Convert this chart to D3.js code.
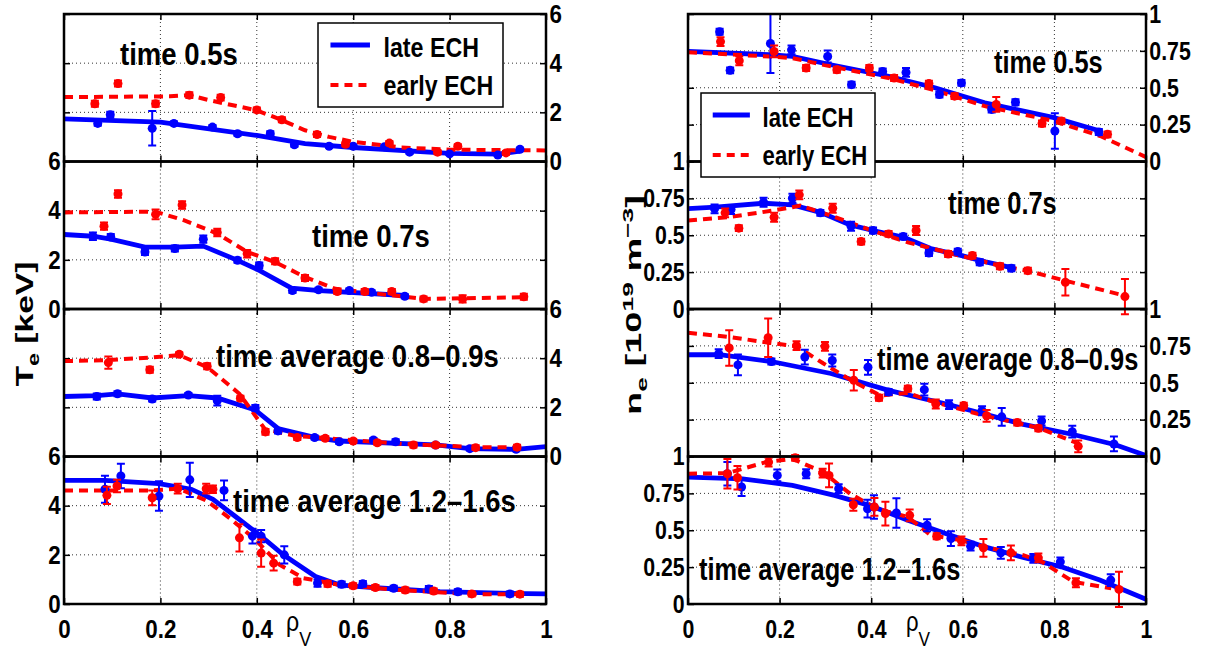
<!DOCTYPE html>
<html>
<head>
<meta charset="utf-8">
<script src="https://cdn.jsdelivr.net/npm/d3@7"></script>
<style>
body { margin: 0; background: #fff; }
</style>
</head>
<body>
<div id="chart-container"></div>
<script>
// ticks
const rhoTicks = [0, 0.2, 0.4, 0.6, 0.8, 1];
const teTicks = [0, 2, 4, 6];
const neTicks = [0, 0.25, 0.5, 0.75, 1];
const seriesNames = ["late ECH", "early ECH"];
const panelTitles = ["time 0.5s", "time 0.7s", "time average 0.8\u20130.9s", "time average 1.2\u20131.6s"];

// Te [keV] : fits [rho, value], points [rho, value, error]
const teLateFit05 = [[0,1.73],[0.2,1.6],[0.4,1.06],[0.5,0.73],[0.6,0.57],[0.8,0.33],[0.9,0.3],[0.946,0.42]];
const teLatePts05 = [[0.07,1.55,0.1],[0.096,1.9,0.12],[0.183,1.35,0.7],[0.228,1.55,0.08],[0.308,1.4,0.08],[0.36,1.13,0.08],[0.428,1.13,0.1],[0.478,0.68,0.08],[0.55,0.62,0.06],[0.6,0.62,0.06],[0.665,0.6,0.06],[0.717,0.38,0.06],[0.8,0.31,0.05],[0.9,0.26,0.05],[0.946,0.5,0.06]];
const teEarlyFit05 = [[0,2.62],[0.22,2.65],[0.26,2.7],[0.3,2.5],[0.4,2.08],[0.45,1.7],[0.5,1.27],[0.55,1.0],[0.6,0.8],[0.7,0.57],[0.8,0.48],[1,0.45]];
const teEarlyPts05 = [[0.064,2.35,0.12],[0.112,3.17,0.12],[0.19,2.35,0.12],[0.26,2.7,0.12],[0.325,2.6,0.12],[0.4,2.1,0.1],[0.452,1.7,0.1],[0.525,1.1,0.1],[0.584,0.7,0.08],[0.675,0.75,0.08],[0.775,0.38,0.08],[0.817,0.62,0.08],[0.917,0.35,0.08]];

const teLateFit07 = [[0,3.03],[0.06,2.96],[0.097,2.84],[0.168,2.52],[0.23,2.52],[0.289,2.56],[0.36,1.98],[0.405,1.57],[0.472,0.85],[0.53,0.75],[0.707,0.55]];
const teLatePts07 = [[0.06,2.96,0.15],[0.097,2.93,0.12],[0.168,2.32,0.12],[0.23,2.46,0.12],[0.289,2.84,0.15],[0.36,1.98,0.1],[0.405,1.77,0.12],[0.474,0.75,0.1],[0.528,0.78,0.08],[0.592,0.75,0.08],[0.638,0.68,0.08],[0.707,0.52,0.08]];
const teEarlyFit07 = [[0,3.93],[0.19,3.96],[0.247,3.62],[0.318,3.07],[0.38,2.32],[0.438,1.91],[0.5,1.3],[0.563,0.82],[0.746,0.41],[0.83,0.44],[0.958,0.48]];
const teEarlyPts07 = [[0.083,3.37,0.15],[0.112,4.68,0.15],[0.19,3.85,0.2],[0.245,4.23,0.15],[0.318,3.11,0.15],[0.38,2.25,0.15],[0.438,1.94,0.12],[0.5,1.26,0.12],[0.567,0.71,0.1],[0.624,0.71,0.1],[0.68,0.71,0.1],[0.746,0.41,0.1],[0.827,0.41,0.15],[0.954,0.5,0.12]];

const teLateFit089 = [[0,2.44],[0.068,2.48],[0.111,2.55],[0.183,2.38],[0.258,2.48],[0.318,2.38],[0.397,1.89],[0.444,1.14],[0.522,0.77],[0.571,0.63],[0.771,0.47],[0.842,0.32],[0.938,0.29],[1,0.4]];
const teLatePts089 = [[0.068,2.44,0.12],[0.111,2.55,0.1],[0.183,2.34,0.1],[0.258,2.5,0.08],[0.318,2.27,0.2],[0.397,1.97,0.12],[0.444,1.04,0.1],[0.52,0.77,0.08],[0.571,0.6,0.08],[0.642,0.67,0.08],[0.688,0.6,0.1],[0.771,0.47,0.08],[0.842,0.32,0.08],[0.938,0.29,0.08]];
const teEarlyFit089 = [[0,3.88],[0.089,3.92],[0.181,4.03],[0.239,4.12],[0.297,3.64],[0.364,2.55],[0.417,1.11],[0.48,0.84],[0.547,0.74],[0.696,0.52],[0.854,0.38],[0.938,0.38]];
const teEarlyPts089 = [[0.092,3.82,0.25],[0.178,3.53,0.12],[0.239,4.16,0.08],[0.297,3.67,0.12],[0.366,2.37,0.1],[0.418,1.0,0.12],[0.484,0.77,0.1],[0.542,0.74,0.08],[0.6,0.63,0.08],[0.65,0.56,0.08],[0.725,0.47,0.1],[0.771,0.47,0.08],[0.854,0.36,0.1],[0.94,0.38,0.1]];

const teLateFit1216 = [[0,5.03],[0.085,5.03],[0.197,4.9],[0.264,4.67],[0.309,4.26],[0.355,3.57],[0.405,2.82],[0.455,2.0],[0.522,1.12],[0.571,0.78],[0.613,0.71],[0.696,0.6],[0.78,0.5],[0.904,0.44],[1,0.41]];
const teLatePts1216 = [[0.085,4.67,0.55],[0.118,5.21,0.5],[0.197,4.39,0.6],[0.261,5.05,0.7],[0.332,4.62,0.4],[0.391,2.76,0.3],[0.409,2.76,0.25],[0.457,2.0,0.35],[0.526,0.85,0.15],[0.576,0.8,0.12],[0.62,0.82,0.12],[0.684,0.64,0.1],[0.757,0.61,0.12],[0.817,0.5,0.1],[0.925,0.41,0.1]];
const teEarlyFit1216 = [[0,4.62],[0.09,4.62],[0.18,4.62],[0.239,4.69],[0.297,4.19],[0.347,3.44],[0.397,2.62],[0.447,1.6],[0.497,1.05],[0.571,0.78],[0.696,0.57],[0.846,0.4],[0.946,0.4]];
const teEarlyPts1216 = [[0.089,4.42,0.35],[0.11,4.8,0.25],[0.183,4.32,0.3],[0.236,4.69,0.2],[0.295,4.69,0.2],[0.309,4.67,0.15],[0.364,2.69,0.55],[0.409,2.07,0.55],[0.435,1.66,0.3],[0.484,0.91,0.12],[0.547,0.82,0.12],[0.6,0.74,0.1],[0.646,0.67,0.1],[0.708,0.57,0.1],[0.767,0.53,0.1],[0.846,0.41,0.1],[0.946,0.4,0.1]];

// ne [10^19 m^-3]
const neLateFit05 = [[0,0.746],[0.178,0.724],[0.228,0.712],[0.312,0.656],[0.438,0.578],[0.539,0.5],[0.648,0.398],[0.799,0.297],[0.9,0.207]];
const neLatePts05 = [[0.069,0.88,0.02],[0.092,0.618,0.02],[0.18,0.8,0.2],[0.226,0.757,0.03],[0.305,0.712,0.04],[0.357,0.521,0.02],[0.425,0.611,0.02],[0.476,0.604,0.03],[0.549,0.454,0.02],[0.597,0.533,0.02],[0.663,0.353,0.02],[0.715,0.402,0.02],[0.801,0.207,0.12],[0.897,0.2,0.02]];
const neEarlyFit05 = [[0,0.74],[0.178,0.712],[0.228,0.701],[0.312,0.645],[0.438,0.566],[0.539,0.483],[0.648,0.375],[0.799,0.274],[0.9,0.173],[1,0.03]];
const neEarlyPts05 = [[0.071,0.813,0.03],[0.112,0.683,0.03],[0.188,0.746,0.04],[0.258,0.634,0.02],[0.325,0.622,0.02],[0.396,0.634,0.02],[0.45,0.566,0.02],[0.526,0.528,0.02],[0.582,0.443,0.02],[0.673,0.387,0.05],[0.773,0.258,0.02],[0.815,0.274,0.02],[0.916,0.184,0.02]];

const neLateFit07 = [[0,0.68],[0.06,0.69],[0.165,0.717],[0.228,0.706],[0.289,0.655],[0.354,0.57],[0.404,0.532],[0.471,0.486],[0.53,0.41],[0.6,0.36],[0.65,0.32],[0.706,0.28]];
const neLatePts07 = [[0.058,0.679,0.03],[0.094,0.674,0.03],[0.165,0.724,0.03],[0.228,0.751,0.03],[0.289,0.652,0.02],[0.356,0.561,0.03],[0.404,0.532,0.02],[0.47,0.491,0.02],[0.526,0.38,0.02],[0.589,0.389,0.02],[0.637,0.317,0.02],[0.706,0.276,0.02]];
const neEarlyFit07 = [[0,0.6],[0.086,0.622],[0.161,0.656],[0.228,0.69],[0.245,0.701],[0.312,0.633],[0.396,0.538],[0.48,0.452],[0.564,0.385],[0.681,0.294],[0.74,0.26],[0.824,0.192],[0.954,0.09]];
const neEarlyPts07 = [[0.081,0.652,0.03],[0.111,0.548,0.02],[0.188,0.622,0.03],[0.243,0.774,0.03],[0.316,0.683,0.03],[0.378,0.457,0.02],[0.438,0.509,0.02],[0.498,0.532,0.03],[0.568,0.373,0.02],[0.621,0.362,0.02],[0.681,0.29,0.02],[0.742,0.26,0.02],[0.824,0.181,0.09],[0.954,0.084,0.12]];

const neLateFit089 = [[0,0.69],[0.069,0.69],[0.182,0.644],[0.312,0.563],[0.438,0.448],[0.564,0.356],[0.648,0.287],[0.732,0.218],[0.841,0.149],[0.933,0.08],[1,0.007]];
const neLatePts089 = [[0.067,0.697,0.03],[0.109,0.621,0.07],[0.182,0.644,0.02],[0.255,0.674,0.05],[0.315,0.651,0.04],[0.393,0.605,0.05],[0.438,0.437,0.02],[0.516,0.453,0.04],[0.57,0.352,0.03],[0.642,0.31,0.03],[0.685,0.269,0.06],[0.772,0.241,0.03],[0.839,0.168,0.04],[0.93,0.085,0.05]];
const neEarlyFit089 = [[0,0.839],[0.09,0.811],[0.179,0.77],[0.237,0.747],[0.295,0.632],[0.362,0.506],[0.42,0.414],[0.48,0.43],[0.539,0.368],[0.648,0.276],[0.765,0.195],[0.849,0.092]];
const neEarlyPts089 = [[0.09,0.736,0.12],[0.175,0.805,0.13],[0.237,0.752,0.03],[0.299,0.747,0.03],[0.362,0.517,0.07],[0.417,0.398,0.02],[0.48,0.46,0.02],[0.541,0.356,0.03],[0.602,0.345,0.02],[0.652,0.276,0.04],[0.719,0.23,0.02],[0.765,0.191,0.02],[0.852,0.069,0.04]];

const neLateFit1216 = [[0,0.86],[0.119,0.849],[0.228,0.804],[0.32,0.736],[0.396,0.669],[0.48,0.568],[0.564,0.477],[0.648,0.387],[0.732,0.315],[0.815,0.252],[0.899,0.162],[1,0.032]];
const neLatePts1216 = [[0.086,0.883,0.08],[0.117,0.793,0.06],[0.195,0.872,0.04],[0.258,0.883,0.03],[0.329,0.782,0.03],[0.392,0.646,0.06],[0.406,0.658,0.08],[0.455,0.617,0.1],[0.522,0.534,0.04],[0.574,0.444,0.05],[0.617,0.392,0.03],[0.683,0.347,0.04],[0.754,0.309,0.03],[0.813,0.286,0.03],[0.923,0.162,0.04]];
const neEarlyFit1216 = [[0,0.883],[0.086,0.887],[0.17,0.962],[0.228,0.984],[0.295,0.894],[0.354,0.748],[0.413,0.646],[0.48,0.59],[0.53,0.466],[0.597,0.432],[0.648,0.387],[0.732,0.331],[0.773,0.286],[0.841,0.151],[0.924,0.106]];
const neEarlyPts1216 = [[0.086,0.883,0.1],[0.108,0.856,0.08],[0.176,0.962,0.03],[0.234,0.991,0.02],[0.294,0.887,0.03],[0.308,0.872,0.08],[0.361,0.673,0.04],[0.407,0.658,0.06],[0.431,0.613,0.08],[0.484,0.601,0.04],[0.543,0.459,0.02],[0.597,0.428,0.03],[0.645,0.381,0.06],[0.705,0.347,0.05],[0.765,0.313,0.03],[0.847,0.144,0.03],[0.941,0.099,0.12]];

// layout
const width = 1205, height = 653;
const panelTop = 14, panelH = 147.5;
const blue = "#0000ff", red = "#ff0000";
const font = "'Liberation Sans', Arial, sans-serif";
const fmt = d3.format("~g");

// sx: the original figure's text is squeezed sideways
const columns = [
  {x0: 64, x1: 546, domain: [0, 6], ticks: teTicks, titleSize: 32, sx: 0.86,
   legend: {x: 318, y: 23, w: 185}, rho: 222,
   panels: [
     {late: teLateFit05, latePts: teLatePts05, early: teEarlyFit05, earlyPts: teEarlyPts05, tx: 120, ty: 65},
     {late: teLateFit07, latePts: teLatePts07, early: teEarlyFit07, earlyPts: teEarlyPts07, tx: 312, ty: 247},
     {late: teLateFit089, latePts: teLatePts089, early: teEarlyFit089, earlyPts: teEarlyPts089, tx: 216, ty: 367},
     {late: teLateFit1216, latePts: teLatePts1216, early: teEarlyFit1216, earlyPts: teEarlyPts1216, tx: 233, ty: 512}
   ]},
  {x0: 688, x1: 1146, domain: [0, 1], ticks: neTicks, titleSize: 31, sx: 0.82,
   legend: {x: 701, y: 93, w: 174}, rho: 218,
   panels: [
     {late: neLateFit05, latePts: neLatePts05, early: neEarlyFit05, earlyPts: neEarlyPts05, tx: 994, ty: 73},
     {late: neLateFit07, latePts: neLatePts07, early: neEarlyFit07, earlyPts: neEarlyPts07, tx: 948, ty: 214},
     {late: neLateFit089, latePts: neLatePts089, early: neEarlyFit089, earlyPts: neEarlyPts089, tx: 877, ty: 370},
     {late: neLateFit1216, latePts: neLatePts1216, early: neEarlyFit1216, earlyPts: neEarlyPts1216, tx: 699, ty: 580}
   ]}
];

const svg = d3.select("#chart-container")
  .append("svg")
  .attr("width", width)
  .attr("height", height)
  .style("display", "block");

function styleAxis(g, showLabels, sx) {
  g.select(".domain").remove();
  g.selectAll(".tick line").attr("stroke", "#000").attr("stroke-width", 1.5);
  g.attr("font-family", font).attr("font-size", 26).attr("font-weight", "bold");
  g.selectAll(".tick text").attr("fill", "#000").attr("transform", `scale(${sx},1)`);
  if (!showLabels) g.selectAll(".tick text").remove();
}

function drawSeries(g, x, y, fit, color, dashed) {
  const line = d3.line().x(d => x(d[0])).y(d => y(d[1]));
  g.append("path")
    .datum(fit)
    .attr("fill", "none")
    .attr("stroke", color)
    .attr("stroke-width", dashed ? 4 : 4.8)
    .attr("stroke-dasharray", dashed ? "9,6" : null)
    .attr("d", line);
}

function drawPoints(g, x, y, pts, color) {
  g.append("g").selectAll("path")
    .data(pts)
    .join("path")
    .attr("fill", "none")
    .attr("stroke", color)
    .attr("stroke-width", 2)
    .attr("d", d => {
      const cx = x(d[0]), lo = y(d[1] - d[2]), hi = y(d[1] + d[2]);
      return `M${cx},${lo}V${hi}M${cx - 4},${lo}H${cx + 4}M${cx - 4},${hi}H${cx + 4}`;
    });
  g.append("g").selectAll("circle")
    .data(pts)
    .join("circle")
    .attr("cx", d => x(d[0]))
    .attr("cy", d => y(d[1]))
    .attr("r", 4.5)
    .attr("fill", color);
}

// squeezed horizontal text
function label(parent, tx, ty, size, weight, str, sx) {
  return parent.append("text")
    .attr("transform", `translate(${tx},${ty}) scale(${sx},1)`)
    .attr("font-family", font).attr("font-weight", weight)
    .attr("font-size", size)
    .text(str);
}

columns.forEach(col => {
  const x = d3.scaleLinear().domain([0, 1]).range([col.x0, col.x1]);

  col.panels.forEach((p, i) => {
    const top = panelTop + i * panelH, bot = top + panelH;
    const y = d3.scaleLinear().domain(col.domain).range([bot, top]);
    const g = svg.append("g");
    const labelRight = i % 2 === 0;

    // dotted grid
    g.selectAll(".gx").data(rhoTicks.slice(1, -1)).join("line")
      .attr("x1", d => x(d)).attr("x2", d => x(d))
      .attr("y1", top).attr("y2", bot)
      .attr("stroke", "#333").attr("stroke-width", 1).attr("stroke-dasharray", "1,3");
    g.selectAll(".gy").data(col.ticks.slice(1, -1)).join("line")
      .attr("x1", col.x0).attr("x2", col.x1)
      .attr("y1", d => y(d)).attr("y2", d => y(d))
      .attr("stroke", "#333").attr("stroke-width", 1).attr("stroke-dasharray", "1,3");

    // inward ticks on all four sides
    g.append("g").attr("transform", `translate(${col.x1},0)`)
      .call(d3.axisRight(y).tickValues(col.ticks).tickSize(-6).tickPadding(4).tickFormat(fmt))
      .call(a => styleAxis(a, labelRight, col.sx));
    g.append("g").attr("transform", `translate(${col.x0},0)`)
      .call(d3.axisLeft(y).tickValues(col.ticks).tickSize(-6).tickPadding(4).tickFormat(fmt))
      .call(a => styleAxis(a, !labelRight, col.sx));
    g.append("g").attr("transform", `translate(0,${top})`)
      .call(d3.axisTop(x).tickValues(rhoTicks).tickSize(-6))
      .call(a => styleAxis(a, false, col.sx));
    g.append("g").attr("transform", `translate(0,${bot})`)
      .call(d3.axisBottom(x).tickValues(rhoTicks).tickSize(-6).tickPadding(16).tickFormat(fmt))
      .call(a => styleAxis(a, i === 3, col.sx));

    // data
    drawSeries(g, x, y, p.late, blue, false);
    drawSeries(g, x, y, p.early, red, true);
    drawPoints(g, x, y, p.latePts, blue);
    drawPoints(g, x, y, p.earlyPts, red);

    // frame
    g.append("rect")
      .attr("x", col.x0).attr("y", top)
      .attr("width", col.x1 - col.x0).attr("height", panelH)
      .attr("fill", "none").attr("stroke", "#000").attr("stroke-width", 2.5);

    // panel title
    label(g, p.tx, p.ty, col.titleSize, "bold", panelTitles[i], col.sx);
  });

  // legend
  const lw = col.legend.w, k0 = lw / 178;
  const lg = svg.append("g").attr("transform", `translate(${col.legend.x},${col.legend.y})`);
  lg.append("rect").attr("width", lw).attr("height", 84)
    .attr("fill", "#fff").attr("stroke", "#000").attr("stroke-width", 1.5);
  [[blue, false, 22, 34], [red, true, 62, 72]].forEach(([c, dashed, ly, ty], k) => {
    lg.append("line").attr("x1", 12 * k0).attr("x2", 50 * k0).attr("y1", ly).attr("y2", ly)
      .attr("stroke", c).attr("stroke-width", dashed ? 4 : 4.8)
      .attr("stroke-dasharray", dashed ? "8,6" : null);
    label(lg, 63 * k0, ty, 27, "bold", seriesNames[k], col.sx);
  });

  // rho_V label
  const rl = label(svg, col.x0 + col.rho, 631, 27, "normal", null, col.sx);
  rl.append("tspan").text("\u03c1");
  rl.append("tspan").attr("dy", 15).attr("font-size", 21).text("V");
});

// rotated y labels, stretched along their length to the reference size
function yLabel(cx, cy, targetLen, sy, parts) {
  const t = svg.append("text")
    .attr("font-family", font)
    .attr("font-weight", "bold").attr("font-size", 26)
    .attr("text-anchor", "middle");
  parts.forEach(([s, dy, size]) => {
    t.append("tspan").attr("dy", dy).attr("font-size", size).text(s);
  });
  const len = t.node().getComputedTextLength();
  t.attr("transform", `translate(${cx},${cy}) rotate(-90) scale(${targetLen / len},${sy})`);
}

yLabel(33, 324, 125, 0.9, [["T", 0, 26], ["e", 7, 18], [" [keV]", -7, 26]]);
yLabel(641, 305, 220, 0.85, [["n", 0, 26], ["e", 7, 18], [" [10", -7, 26], ["19", -10, 18], [" m", 10, 26], ["\u22123", -10, 18], ["]", 10, 26]]);
</script>
</body>
</html>
